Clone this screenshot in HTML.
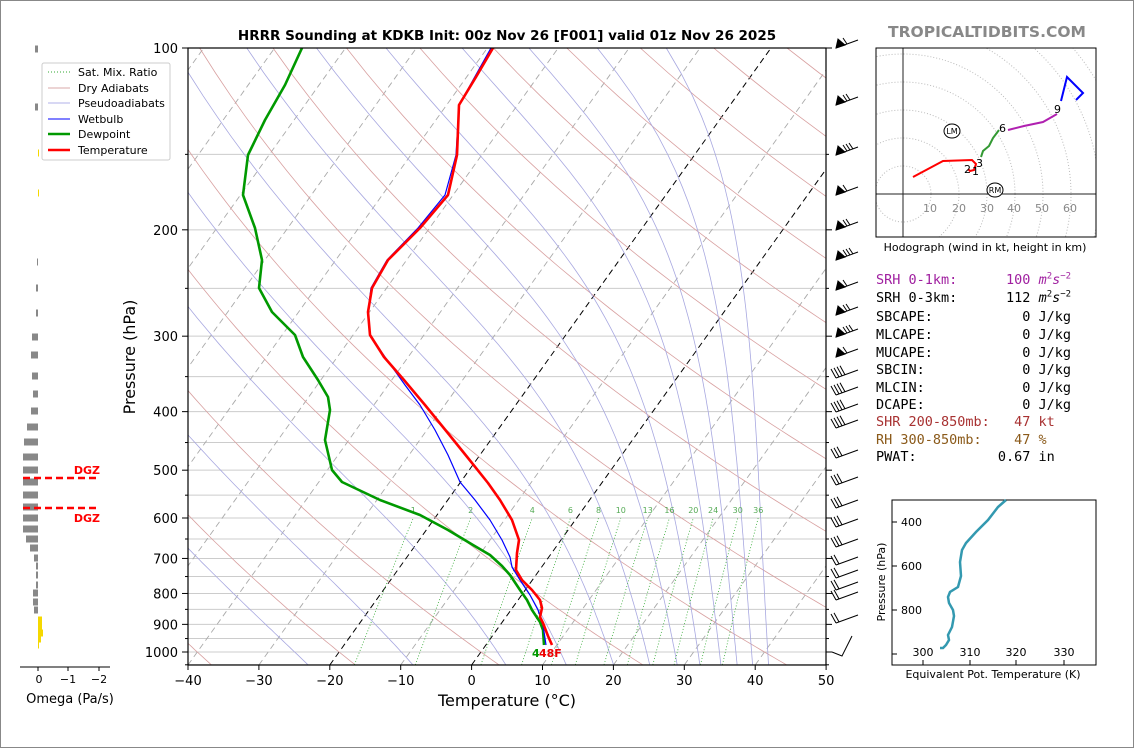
<!DOCTYPE html>
<html><head><meta charset="utf-8">
<style>
html,body{margin:0;padding:0;background:#fff;}
body{width:1134px;height:748px;position:relative;overflow:hidden;font-family:"DejaVu Sans","Liberation Sans",sans-serif;}
.mono{position:absolute;left:876px;font-family:"DejaVu Sans Mono","Liberation Mono",monospace;font-size:13.5px;white-space:pre;line-height:16px;}
sup{font-size:9px;line-height:0;}
</style></head><body>
<svg id="s" width="1134" height="748" xmlns="http://www.w3.org/2000/svg" style="position:absolute;left:0;top:0">
<rect x="0.5" y="0.5" width="1133" height="747" fill="#fff" stroke="#888"/>
<defs><clipPath id="cp"><rect x="188" y="48" width="638" height="617"/></clipPath></defs>
<g id="bg" clip-path="url(#cp)"></g>
<g id="fg" clip-path="url(#cp)"></g>
<rect x="188" y="48" width="638" height="617" fill="none" stroke="#000" stroke-width="1.2"/>
<g id="ticks"></g>
<text x="507" y="40" font-size="13.5" font-weight="bold" text-anchor="middle">HRRR Sounding at KDKB Init: 00z Nov 26 [F001] valid 01z Nov 26 2025</text>
<text x="987" y="37" font-size="15.5" font-weight="bold" fill="#888" text-anchor="middle">TROPICALTIDBITS.COM</text>
<g font-size="13" text-anchor="end" id="ylab"></g>
<g font-size="13" text-anchor="middle" id="xlab"></g>
<text x="507" y="706" font-size="16" text-anchor="middle">Temperature (°C)</text>
<text x="135" y="357" font-size="16" text-anchor="middle" transform="rotate(-90 135 357)">Pressure (hPa)</text>
<text x="532" y="657" font-size="11" font-weight="bold" fill="#009900">4</text>
<text x="539" y="657" font-size="11" font-weight="bold" fill="#ee0000">48F</text>
<rect x="42" y="63" width="128" height="97" fill="#fff" stroke="#ccc" rx="2"/>
<g font-size="11">
<line x1="48" y1="72" x2="70" y2="72" stroke="#3a3" stroke-dasharray="1,2"/><text x="78" y="76">Sat. Mix. Ratio</text>
<line x1="48" y1="88" x2="70" y2="88" stroke="#d8a8a8"/><text x="78" y="92">Dry Adiabats</text>
<line x1="48" y1="103" x2="70" y2="103" stroke="#b0b0e8"/><text x="78" y="107">Pseudoadiabats</text>
<line x1="48" y1="119" x2="70" y2="119" stroke="#00f"/><text x="78" y="123">Wetbulb</text>
<line x1="48" y1="134" x2="70" y2="134" stroke="#090" stroke-width="2.5"/><text x="78" y="138">Dewpoint</text>
<line x1="48" y1="150" x2="70" y2="150" stroke="#f00" stroke-width="2.5"/><text x="78" y="154">Temperature</text>
</g>
<g id="om"></g>
<line x1="23" y1="478" x2="99" y2="478" stroke="#f00" stroke-width="2.5" stroke-dasharray="7,4"/>
<line x1="23" y1="508" x2="99" y2="508" stroke="#f00" stroke-width="2.5" stroke-dasharray="7,4"/>
<text x="100" y="474" font-size="11" font-weight="bold" fill="#f00" text-anchor="end">DGZ</text>
<text x="100" y="522" font-size="11" font-weight="bold" fill="#f00" text-anchor="end">DGZ</text>
<line x1="20" y1="667" x2="110" y2="667" stroke="#000"/>
<g stroke="#000"><line x1="38" y1="667" x2="38" y2="671"/><line x1="68" y1="667" x2="68" y2="671"/><line x1="99" y1="667" x2="99" y2="671"/></g>
<g font-size="11" text-anchor="middle"><text x="39" y="683">0</text><text x="68" y="683">−1</text><text x="99" y="683">−2</text></g>
<text x="70" y="703" font-size="13" text-anchor="middle">Omega (Pa/s)</text>
<svg x="876" y="48" width="220" height="189" overflow="hidden">
<g fill="none" stroke="#bbb" stroke-dasharray="1,2" id="rings"></g>
<line x1="0" y1="146" x2="220" y2="146" stroke="#222"/>
<line x1="27" y1="0" x2="27" y2="189" stroke="#222"/>
<g font-size="11" fill="#888" text-anchor="middle"><text x="54" y="164">10</text><text x="83" y="164">20</text><text x="111" y="164">30</text><text x="138" y="164">40</text><text x="166" y="164">50</text><text x="194" y="164">60</text></g>
<polyline points="37,129 67,113 96,112 100,116 98,122 94,123 92,121" fill="none" stroke="#f00" stroke-width="2"/>
<polyline points="105,109 107,103 113,98 117,90 123,82" fill="none" stroke="#393" stroke-width="2"/>
<polyline points="132,82 148,78 167,74 181,66" fill="none" stroke="#b020b0" stroke-width="2"/>
<polyline points="185,53 191,29 207,45 200,52" fill="none" stroke="#00f" stroke-width="2"/>
<g font-size="11"><text x="88" y="125">2</text><text x="96" y="127">1</text><text x="100" y="119">3</text><text x="123" y="84">6</text><text x="178" y="65">9</text></g>
<ellipse cx="76" cy="83" rx="8" ry="7" fill="#fff" stroke="#000"/><text x="76" y="86" font-size="8" text-anchor="middle">LM</text>
<ellipse cx="119" cy="142" rx="8" ry="7" fill="#fff" stroke="#000"/><text x="119" y="145" font-size="8" text-anchor="middle">RM</text>
</svg>
<rect x="876" y="48" width="220" height="189" fill="none" stroke="#000"/>
<text x="985" y="251" font-size="11" text-anchor="middle">Hodograph (wind in kt, height in km)</text>
<rect x="892" y="500" width="204" height="165" fill="none" stroke="#000"/>
<g stroke="#000"><line x1="892" y1="522" x2="897" y2="522"/><line x1="892" y1="566" x2="897" y2="566"/><line x1="892" y1="610" x2="897" y2="610"/><line x1="892" y1="654" x2="897" y2="654"/>
<line x1="923" y1="660" x2="923" y2="665"/><line x1="970" y1="660" x2="970" y2="665"/><line x1="1016" y1="660" x2="1016" y2="665"/><line x1="1064" y1="660" x2="1064" y2="665"/></g>
<g font-size="11" text-anchor="end"><text x="922" y="526">400</text><text x="922" y="570">600</text><text x="922" y="614">800</text></g>
<g font-size="11" text-anchor="middle"><text x="923" y="656">300</text><text x="970" y="656">310</text><text x="1016" y="656">320</text><text x="1064" y="656">330</text></g>
<text x="885" y="582" font-size="11" text-anchor="middle" transform="rotate(-90 885 582)">Pressure (hPa)</text>
<text x="993" y="678" font-size="11" text-anchor="middle">Equivalent Pot. Temperature (K)</text>
<polyline points="1006,500 998,507 988,520 976,532 966,543 962,550 960,562 961,576 958,587 950,592 948,597 949,603 953,610 954,616 952,627 948,635 949,640 946,645 943,648 940,648" fill="none" stroke="#3399b0" stroke-width="2.5"/>
<g id="barbs" stroke="#000" stroke-width="1" fill="#000"></g>
</svg>
<div class="mono" style="top:272px;color:#a020a0">SRH 0-1km:      100 <i>m</i><sup>2</sup><i>s</i><sup>−2</sup></div>
<div class="mono" style="top:290px">SRH 0-3km:      112 <i>m</i><sup>2</sup><i>s</i><sup>−2</sup></div>
<div class="mono" style="top:309px">SBCAPE:           0 J/kg</div>
<div class="mono" style="top:327px">MLCAPE:           0 J/kg</div>
<div class="mono" style="top:345px">MUCAPE:           0 J/kg</div>
<div class="mono" style="top:362px">SBCIN:            0 J/kg</div>
<div class="mono" style="top:380px">MLCIN:            0 J/kg</div>
<div class="mono" style="top:397px">DCAPE:            0 J/kg</div>
<div class="mono" style="top:414px;color:#a83232">SHR 200-850mb:   47 kt</div>
<div class="mono" style="top:432px;color:#8b5a1a">RH 300-850mb:    47 %</div>
<div class="mono" style="top:449px">PWAT:          0.67 in</div>
<script>
(function(){
var NS="http://www.w3.org/2000/svg";
function el(p,t,a){var e=document.createElementNS(NS,t);for(var k in a)e.setAttribute(k,a[k]);p.appendChild(e);return e;}
function Y(p){return 48+(Math.log10(p)-2)*604;}
var K=0.715;
function X(T,y){return 188+(T+40)*7.09+(665-y)*K;}
var bg=document.getElementById('bg'),fg=document.getElementById('fg'),tk=document.getElementById('ticks');
for(var p=100;p<=1050;p+=50){var y=Y(p);el(bg,'line',{x1:188,x2:826,y1:y,y2:y,stroke:'#ccc','stroke-width':1});
 var big=(p%100==0);el(tk,'line',{x1:188,x2:big?182:185,y1:y,y2:y,stroke:'#000'});el(tk,'line',{x1:826,x2:big?832:829,y1:y,y2:y,stroke:'#000'});}
for(var T=-130;T<=60;T+=10){var x1=X(T,665),x2=X(T,48);var blk=(T==0||T==-20);
 el(bg,'line',{x1:x1,y1:665,x2:x2,y2:48,stroke:blk?'#000':'#aaa','stroke-dasharray':'6,4','stroke-width':blk?1:0.9});}
function pl(pts,st){var s=pts.map(function(q){return q[0].toFixed(1)+','+q[1].toFixed(1)}).join(' ');el(bg,'polyline',Object.assign({points:s,fill:'none'},st));}
for(var th=173.15;th<=493.15;th+=20){var pts=[];for(var p=1050;p>=100;p-=10){var T=th*Math.pow(p/1000,0.2857)-273.15;var y=Y(p);pts.push([X(T,y),y]);}pl(pts,{stroke:'#d8a0a0','stroke-width':0.8});}
function es(t){return 6.112*Math.exp(17.67*t/(t+243.5));}
function the(T,p){var e=es(T-273.15);var rs=0.622*e/Math.max(p-e,1);return T*Math.pow(1000/p,0.2857)*Math.exp(2.5e6*rs/(1005*T));}
[248,266,287,306,326,346,365,384,405,424,445,470].forEach(function(te){var pts=[];
 for(var p=1050;p>=100;p-=10){var lo=120,hi=340;for(var k=0;k<50;k++){var m=(lo+hi)/2;if(the(m,p)>te)hi=m;else lo=m;}
  var y=Y(p);pts.push([X(lo-273.15,y),y]);}
 pl(pts,{stroke:'#a8a8e0','stroke-width':0.8});});
var ws=[1,2,4,6,8,10,13,16,20,24,30,36];
ws.forEach(function(w){var pts=[];for(var p=1050;p>=600;p-=10){var e=w*p/(622+w);var l=Math.log(e/6.112);var Td=243.5*l/(17.67-l);var y=Y(p);pts.push([X(Td,y),y]);}
 pl(pts,{stroke:'#3a3','stroke-width':0.8,'stroke-dasharray':'1,2'});
 var yy=Y(600);var e=w*600/(622+w),l=Math.log(e/6.112),Td=243.5*l/(17.67-l);
 var t=el(bg,'text',{x:X(Td,yy),y:yy-5,'font-size':8,fill:'#5a5','text-anchor':'middle'});t.textContent=w;});
function prof(s,st){el(fg,'polyline',Object.assign({points:s,fill:'none','stroke-linejoin':'round'},st));}
prof("302,48 285,85 265,120 248,155 243,195 255,228 262,260 259,288 272,312 295,335 303,357 318,380 328,397 330,410 325,440 332,470 342,482 380,500 420,515 448,530 473,545 490,555 502,566 510,575 520,590 527,600 532,610 540,622 543,630 544,645",{stroke:'#090','stroke-width':2.6});
prof("491,48 459,105 456,155 445,195 418,228 387,260 371,288 368,312 370,335 385,357 405,385 420,405 435,430 448,455 460,482 475,500 490,520 502,540 510,557 512,567 520,580 530,595 538,610 543,625 546,645",{stroke:'#00f','stroke-width':1.2});
prof("493,48 476,77 459,105 457,155 448,195 420,228 388,260 372,288 368,312 370,335 384,357 404,380 425,405 447,432 468,458 488,483 500,500 512,520 519,540 517,553 516,570 522,580 532,590 540,600 542,608 540,617 543,623 548,636 552,645",{stroke:'#f00','stroke-width':2.6});
var yl=document.getElementById('ylab');[100,200,300,400,500,600,700,800,900,1000].forEach(function(p){var t=el(yl,'text',{x:178,y:Y(p)+5});t.textContent=p;});
var xl=document.getElementById('xlab');for(var T=-40;T<=50;T+=10){var x=188+(T+40)*7.09;el(tk,'line',{x1:x,x2:x,y1:665,y2:670,stroke:'#000'});var t=el(xl,'text',{x:x,y:685});t.textContent=(T<0?'−'+(-T):T);}
var om=document.getElementById('om');
[[49,35],[107,35],[262,37],[288,36],[313,36],[337,32],[355,31],[376,32],[394,33],[411,31],[427,27],[442,24],[457,23],[470,23],[482,23],[495,23],[507,23],[518,23],[529,23],[539,26],[548,30],[558,34],[566,36],[575,36],[585,36],[593,33],[602,33],[610,34]].forEach(function(b){el(om,'rect',{x:b[1],y:b[0]-3.5,width:38-b[1],height:7,fill:'#888'});});
[[153,39],[193,39],[620,42],[627,42],[633,43],[639,41],[645,39]].forEach(function(b){el(om,'rect',{x:38,y:b[0]-3.5,width:b[1]-38,height:7,fill:'#f5d800'});});
var bb=document.getElementById('barbs');
var ys=[48,105,155,195,230,260,290,315,337,357,378,395,412,428,458,485,508,527,547,565,578,590,600,623];
ys.forEach(function(y,i){el(bb,'line',{x1:836,y1:y,x2:858,y2:y-8});
 if(i<10){el(bb,'polygon',{points:(836)+','+(y)+' '+(838)+','+(y-9)+' '+(845)+','+(y-3)});
   for(var j=0;j<(i%3)+1;j++){var bx=847+j*3;el(bb,'line',{x1:bx,y1:y-4-j,x2:bx-4,y2:y-10-j});}}
 else{var n=(i<14)?4:(i<19?3:2);for(var j=0;j<n;j++){var bx=836+j*3,by=y-j*1.1;el(bb,'line',{x1:bx,y1:by,x2:bx-5,y2:by-9});}}});
el(bb,'polyline',{points:'832,652 842,656 852,636',fill:'none'});
var rg=document.getElementById('rings');for(var r=1;r<=8;r++)el(rg,'circle',{cx:27,cy:146,r:r*28});
})();
</script>
</body></html>
